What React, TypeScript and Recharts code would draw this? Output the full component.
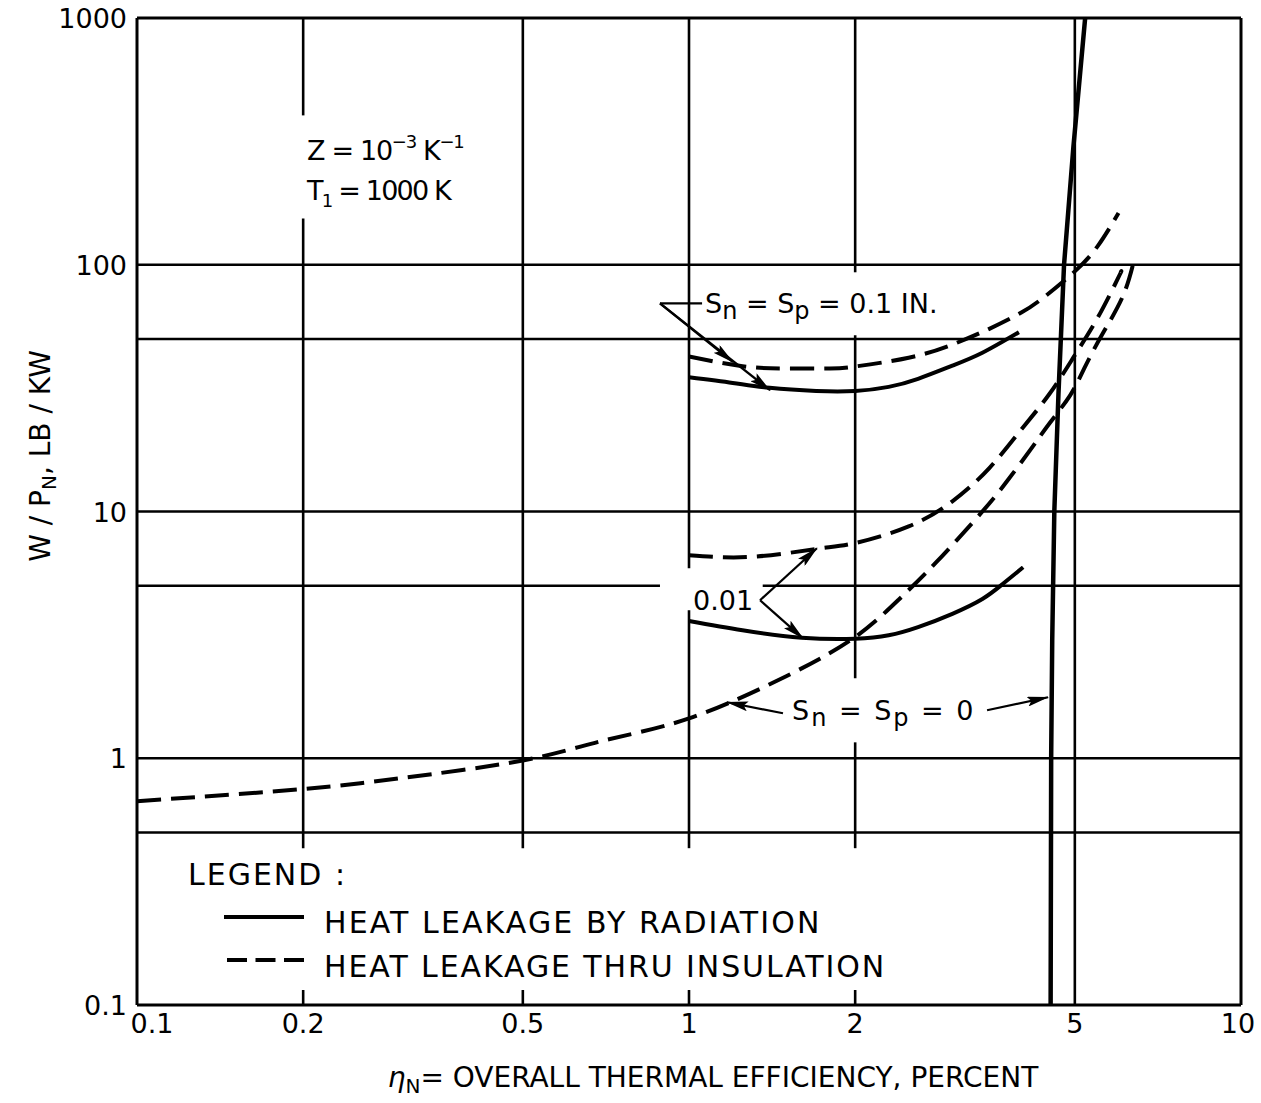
import React from "react";
import { LineChart, Line, XAxis, YAxis, ReferenceLine } from "recharts";

const X_TICKS = [0.1, 0.2, 0.5, 1, 2, 5, 10];
const Y_TICKS = [0.1, 1, 10, 100, 1000];

// S_n = S_p = 0, heat leakage thru insulation
const insul0X = [0.1, 0.2, 0.3, 0.5, 0.7, 1, 1.5, 2, 2.4, 2.8, 3.4, 3.8, 4.2, 4.5, 4.9, 5.2, 5.6, 6.1, 6.4];
const insul0Y = [0.67, 0.75, 0.83, 0.98, 1.18, 1.45, 2.15, 3.1, 4.4, 6.2, 10, 13.6, 18.4, 22.8, 29.5, 38, 52, 74, 104];

// S_n = S_p = 0.1 in.
const insul01X = [1, 1.25, 1.5, 1.8, 2, 2.5, 3, 3.5, 4, 4.4, 5, 5.5, 6];
const insul01Y = [42.5, 38.8, 38, 38, 38.7, 42, 47.5, 55, 64, 74, 94, 119, 162];
const rad01X = [1, 1.2, 1.4, 1.7, 2, 2.3, 2.6, 3, 3.4, 3.96];
const rad01Y = [35, 33.2, 31.7, 30.8, 30.8, 32, 34.5, 39, 44, 53.3];

// S_n = S_p = 0.01 in.
const insul001X = [1, 1.3, 1.7, 2, 2.5, 3, 3.5, 4, 4.5, 5, 5.5, 6, 6.05];
const insul001Y = [6.65, 6.55, 7.05, 7.45, 8.7, 11, 15, 21.5, 30, 43, 61, 89, 93];
const rad001X = [1, 1.25, 1.6, 2, 2.3, 2.6, 3, 3.4, 3.7, 4.03];
const rad001Y = [3.6, 3.3, 3.08, 3.05, 3.15, 3.4, 3.85, 4.42, 5.08, 5.94];

// S_n = S_p = 0, heat leakage by radiation (near vertical)
const rad0Y = [0.1, 1, 3, 10, 30, 100, 300, 1000];
const rad0X = [4.52, 4.53, 4.55, 4.59, 4.67, 4.78, 4.97, 5.22];

const V_GRID = [0.2, 0.5, 1, 2];
const H_GRID = [100, 50, 10, 5, 1, 0.5];

const FONT = "DejaVu Sans";
const DASH = "24 10";

const pts = (xs: number[], ys: number[]) => xs.map((x, i) => ({ x, y: ys[i] }));

// gaps where the grid is broken for lettering
const vGaps: Record<number, number[][]> = {
  0.2: [[154, 403]],
  1: [[3.98, 5.89]],
  2: [[1.16, 2.11], [51.8, 93.2]],
};
const hGaps: Record<number, number[][]> = {
  5: [[0.886, 1.36]],
};

function spans(lo: number, hi: number, gaps: number[][] = []) {
  const out: number[][] = [];
  let start = lo;
  for (const [a, b] of gaps) {
    out.push([start, a]);
    start = b;
  }
  out.push([start, hi]);
  return out;
}

function XTick(props: any) {
  const { x, y, payload } = props;
  const v = payload.value;
  const dx = v === 0.1 ? 15 : v === 10 ? -3 : 0;
  return (
    <text x={x + dx} y={y + 28} textAnchor="middle" fontSize={27} fontFamily={FONT} fill="#000">
      {String(v)}
    </text>
  );
}

function YTick(props: any) {
  const { x, y, payload } = props;
  return (
    <text x={x - 10} y={y + 10} textAnchor="end" fontSize={27} fontFamily={FONT} fill="#000">
      {String(payload.value)}
    </text>
  );
}

const gridStroke = { stroke: "#000", strokeWidth: 2.6 };

export default function App() {
  const gridLines: React.ReactNode[] = [];
  V_GRID.forEach((gx) => {
    spans(0.432, 1000, vGaps[gx]).forEach(([a, b], i) =>
      gridLines.push(
        <ReferenceLine key={`v${gx}-${i}`} segment={[{ x: gx, y: a }, { x: gx, y: b }]} {...gridStroke} ifOverflow="visible" />
      )
    );
    gridLines.push(
      <ReferenceLine key={`vt${gx}`} segment={[{ x: gx, y: 0.1 }, { x: gx, y: 0.115 }]} {...gridStroke} ifOverflow="visible" />
    );
  });
  gridLines.push(
    <ReferenceLine key="v5" segment={[{ x: 5, y: 0.1 }, { x: 5, y: 1000 }]} {...gridStroke} ifOverflow="visible" />
  );
  H_GRID.forEach((gy) => {
    spans(0.1, 10, hGaps[gy]).forEach(([a, b], i) =>
      gridLines.push(
        <ReferenceLine key={`h${gy}-${i}`} segment={[{ x: a, y: gy }, { x: b, y: gy }]} {...gridStroke} ifOverflow="visible" />
      )
    );
  });

  const arrow = (key: string, from: [number, number], to: [number, number]) => (
    <ReferenceLine
      key={key}
      segment={[{ x: from[0], y: from[1] }, { x: to[0], y: to[1] }]}
      stroke="#000"
      strokeWidth={2.2}
      markerEnd="url(#arrowHead)"
      ifOverflow="visible"
    />
  );

  return (
    <div style={{ position: "absolute", left: 0, top: 0, width: 1261, height: 1103, background: "#fff" }}>
      <LineChart width={1261} height={1103} margin={{ top: 18, right: 20, bottom: 0, left: 0 }}>
        <defs>
          <marker id="arrowHead" markerWidth={22} markerHeight={10} refX={21} refY={5} orient="auto" markerUnits="userSpaceOnUse">
            <path d="M0,0 L22,5 L0,10 L4,5 Z" fill="#000" />
          </marker>
        </defs>
        <XAxis
          dataKey="x"
          type="number"
          scale="log"
          domain={[0.1, 10]}
          ticks={X_TICKS}
          interval={0}
          allowDataOverflow
          height={98}
          axisLine={false}
          tickLine={false}
          tickSize={0}
          tickMargin={0}
          tick={XTick}
        />
        <YAxis
          type="number"
          scale="log"
          domain={[0.1, 1000]}
          ticks={Y_TICKS}
          interval={0}
          allowDataOverflow
          width={137}
          axisLine={false}
          tickLine={false}
          tickSize={0}
          tickMargin={0}
          tick={YTick}
        />
        {gridLines}
        {/* frame */}
        <ReferenceLine x={0.1} stroke="#000" strokeWidth={3} />
        <ReferenceLine x={10} stroke="#000" strokeWidth={3} />
        <ReferenceLine y={0.1} stroke="#000" strokeWidth={3} />
        <ReferenceLine y={1000} stroke="#000" strokeWidth={3} />

        <Line data={pts(insul0X, insul0Y)} dataKey="y" type="natural" stroke="#000" strokeWidth={4} strokeDasharray={DASH} dot={false} activeDot={false} isAnimationActive={false} />
        <Line data={pts(insul01X, insul01Y)} dataKey="y" type="natural" stroke="#000" strokeWidth={4} strokeDasharray={DASH} dot={false} activeDot={false} isAnimationActive={false} />
        <Line data={pts(rad01X, rad01Y)} dataKey="y" type="natural" stroke="#000" strokeWidth={4} dot={false} activeDot={false} isAnimationActive={false} />
        <Line data={pts(insul001X, insul001Y)} dataKey="y" type="natural" stroke="#000" strokeWidth={4} strokeDasharray={DASH} dot={false} activeDot={false} isAnimationActive={false} />
        <Line data={pts(rad001X, rad001Y)} dataKey="y" type="natural" stroke="#000" strokeWidth={4} dot={false} activeDot={false} isAnimationActive={false} />
        <Line data={pts(rad0X, rad0Y)} dataKey="y" type="linear" stroke="#000" strokeWidth={4.5} dot={false} activeDot={false} isAnimationActive={false} />

        {/* leaders */}
        <ReferenceLine segment={[{ x: 0.886, y: 69.8 }, { x: 1.056, y: 69.8 }]} stroke="#000" strokeWidth={2.2} ifOverflow="visible" />
        {arrow("a1", [0.886, 69.8], [1.201, 40.3])}
        {arrow("a2", [0.886, 69.8], [1.402, 31.0])}
        {arrow("a3", [1.345, 4.37], [1.705, 7.1])}
        {arrow("a4", [1.345, 4.37], [1.609, 3.06])}
        {arrow("a5", [1.48, 1.522], [1.172, 1.686])}
        {arrow("a6", [3.467, 1.565], [4.471, 1.767])}

        <g fontFamily={FONT} fill="#000">
          <text x={307} y={160} fontSize={27} letterSpacing={-1.3}>
            Z = 10<tspan dy={-12} fontSize={18}>−3</tspan>
            <tspan dy={12}> K</tspan>
            <tspan dy={-12} fontSize={18}>−1</tspan>
          </text>
          <text x={307} y={200} fontSize={27} letterSpacing={-1.8}>
            T<tspan dy={7} fontSize={18}>1</tspan>
            <tspan dy={-7}> = 1000 K</tspan>
          </text>
          <text x={705} y={313} fontSize={27}>
            S<tspan dy={6} fontSize={24}>n</tspan>
            <tspan dy={-6}> = S</tspan>
            <tspan dy={6} fontSize={24}>p</tspan>
            <tspan dy={-6}> = 0.1 IN.</tspan>
          </text>
          <text x={693} y={610} fontSize={27}>0.01</text>
          <text x={792} y={720} fontSize={27} letterSpacing={2}>
            S<tspan dy={6} fontSize={24}>n</tspan>
            <tspan dy={-6}> = S</tspan>
            <tspan dy={6} fontSize={24}>p</tspan>
            <tspan dy={-6}> = 0</tspan>
          </text>

          {/* legend */}
          <text x={188} y={885} fontSize={30} letterSpacing={2}>LEGEND :</text>
          <line x1={224} y1={917} x2={304} y2={917} stroke="#000" strokeWidth={4} />
          <text x={324} y={933} fontSize={30} letterSpacing={2.1}>HEAT LEAKAGE BY RADIATION</text>
          <line x1={227} y1={960} x2={304} y2={960} stroke="#000" strokeWidth={4} strokeDasharray="20 8.5" />
          <text x={324} y={977} fontSize={30} letterSpacing={1.9}>HEAT LEAKAGE THRU INSULATION</text>

          {/* axis titles */}
          <text x={713} y={1087} fontSize={28} textAnchor="middle">
            <tspan fontStyle="italic">η</tspan>
            <tspan dy={6} fontSize={20}>N</tspan>
            <tspan dy={-6}>= OVERALL THERMAL EFFICIENCY, PERCENT</tspan>
          </text>
          <text x={50} y={456} fontSize={28} textAnchor="middle" transform="rotate(-90, 50, 456)">
            W / P<tspan dy={6} fontSize={20}>N</tspan>
            <tspan dy={-6}>, LB / KW</tspan>
          </text>
        </g>
      </LineChart>
    </div>
  );
}
